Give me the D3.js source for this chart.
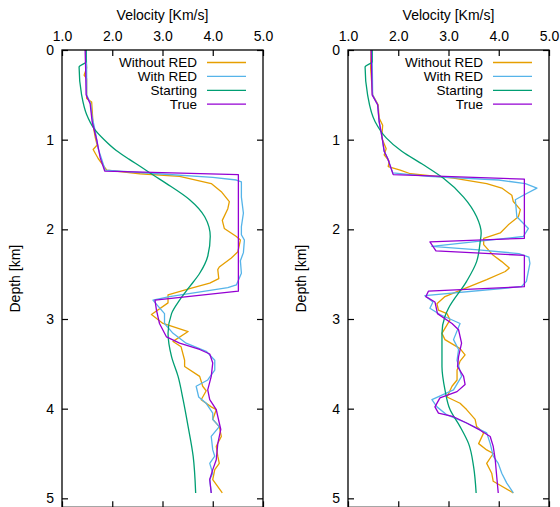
<!DOCTYPE html>
<html>
<head>
<meta charset="utf-8">
<script src="https://cdn.jsdelivr.net/npm/d3@7/dist/d3.min.js"></script>
<style>
  body { margin: 0; background: #fff; }
  svg { display: block; }
  text { font-family: "Liberation Sans", Arial, sans-serif; }
</style>
</head>
<body>
<svg id="chart" width="560" height="507"></svg>
<script>
'use strict';

// tick labels
var velocityTicks = [1, 2, 3, 4, 5];
var depthTicks = [0, 1, 2, 3, 4, 5];
var seriesNames = ['Without RED', 'With RED', 'Starting', 'True'];
var seriesColors = ['#e69f00', '#56b4e9', '#009e73', '#9400d3'];

// left panel, [depth km, velocity km/s]
var leftWithout = [[0,1.47],[0.2,1.49],[0.28,1.44],[0.32,1.49],[0.54,1.49],[0.58,1.59],[0.84,1.62],[0.97,1.66],
  [1.06,1.70],[1.11,1.62],[1.21,1.72],[1.34,1.89],[1.38,2.55],[1.41,3.34],[1.49,3.97],[1.58,4.17],[1.69,4.33],
  [1.77,4.30],[1.90,4.19],[1.99,4.23],[2.08,4.47],[2.12,4.55],[2.25,4.50],[2.32,4.37],[2.42,4.13],[2.45,4.10],
  [2.55,4.12],[2.60,3.94],[2.66,3.54],[2.73,3.11],[2.82,3.11],[2.95,2.78],[3.05,3.01],[3.14,3.51],[3.25,3.21],
  [3.31,3.37],[3.46,3.44],[3.53,3.44],[3.64,3.74],[3.75,3.80],[3.80,3.87],[3.90,3.77],[3.98,3.97],[4.01,4.07],
  [4.12,4.0],[4.2,4.13],[4.31,4.17],[4.42,4.07],[4.53,4.10],[4.61,4.13],[4.68,4.04],[4.79,4.0],[4.94,4.19]];
var leftWith = [[0,1.48],[0.2,1.49],[0.5,1.49],[0.6,1.57],[0.75,1.60],[0.9,1.66],[1.1,1.72],[1.2,1.78],
  [1.34,1.86],[1.38,2.9],[1.42,4.0],[1.45,4.47],[1.47,4.57],[1.64,4.57],[1.82,4.61],[1.97,4.57],[2.06,4.57],
  [2.12,4.63],[2.26,4.61],[2.35,4.55],[2.49,4.57],[2.62,4.47],[2.65,4.30],[2.75,3.14],[2.79,2.81],[2.94,3.04],
  [3.05,3.04],[3.16,3.21],[3.27,3.47],[3.36,3.87],[3.46,4.04],[3.57,4.04],[3.68,3.90],[3.75,3.67],[3.87,3.72],
  [3.94,3.87],[4.05,4.0],[4.12,4.0],[4.2,4.13],[4.31,3.97],[4.46,4.0],[4.53,4.04],[4.61,3.94],[4.72,4.0],
  [4.79,3.94],[4.94,3.97]];
var leftStarting = [[0,1.48],[0.13,1.48],[0.19,1.34],[0.5,1.39],[0.72,1.49],[0.87,1.63],[1.0,1.84],[1.12,2.08],
  [1.22,2.34],[1.30,2.56],[1.40,2.83],[1.49,3.08],[1.67,3.54],[1.86,3.84],[2.08,3.95],[2.30,3.90],[2.49,3.74],
  [2.64,3.54],[2.79,3.34],[2.94,3.18],[3.16,3.11],[3.42,3.18],[3.64,3.31],[3.90,3.41],[4.2,3.51],[4.53,3.61],
  [4.94,3.66]];
var leftTrue = [[0,1.46],[0.2,1.47],[0.5,1.48],[0.6,1.56],[0.8,1.60],[1.0,1.69],[1.2,1.76],[1.35,1.85],
  [1.39,4.51],[2.69,4.51],[2.79,2.85],[2.90,2.88],[3.05,2.94],[3.2,3.08],[3.27,3.34],[3.34,3.74],[3.39,3.94],
  [3.49,4.0],[3.64,3.97],[3.79,3.90],[3.90,3.94],[4.01,4.07],[4.16,4.13],[4.23,4.16],[4.39,4.10],[4.57,4.07],
  [4.68,4.0],[4.79,3.94],[4.94,3.97]];

// right panel, [depth km, velocity km/s]
var rightWithout = [[0,1.46],[0.2,1.45],[0.5,1.49],[0.61,1.60],[0.76,1.62],[0.84,1.69],[0.98,1.67],[1.10,1.76],
  [1.17,1.72],[1.24,1.82],[1.30,1.80],[1.34,2.04],[1.38,2.24],[1.43,3.10],[1.49,3.76],[1.54,4.06],[1.62,4.26],
  [1.69,4.29],[1.78,4.43],[1.86,4.39],[1.95,4.19],[2.04,4.03],[2.10,3.70],[2.17,3.70],[2.29,3.89],[2.36,4.06],
  [2.43,4.21],[2.47,4.13],[2.56,3.76],[2.68,3.23],[2.75,2.93],[2.83,2.77],[2.90,2.80],[2.94,2.97],[3.01,3.03],
  [3.16,2.87],[3.23,2.93],[3.33,3.23],[3.40,3.33],[3.47,3.23],[3.57,3.17],[3.68,3.17],[3.75,3.07],[3.87,2.97],
  [3.94,3.23],[4.01,3.36],[4.12,3.53],[4.20,3.56],[4.27,3.70],[4.39,3.60],[4.46,3.76],[4.50,3.89],[4.61,3.76],
  [4.72,3.86],[4.81,3.89],[4.94,4.29]];
var rightWith = [[0,1.48],[0.5,1.49],[0.61,1.59],[0.80,1.62],[0.98,1.68],[1.13,1.72],[1.21,1.79],[1.37,1.89],
  [1.41,2.6],[1.45,4.0],[1.49,4.53],[1.54,4.76],[1.62,4.49],[1.67,4.33],[1.86,4.36],[1.99,4.59],[2.08,4.49],
  [2.19,2.67],[2.23,3.6],[2.27,4.4],[2.31,4.6],[2.38,4.62],[2.58,4.55],[2.64,4.45],[2.74,2.53],[2.81,2.69],
  [2.88,2.63],[2.95,2.83],[3.05,3.23],[3.23,3.10],[3.34,3.20],[3.46,3.17],[3.64,3.26],[3.79,3.10],[3.90,2.67],
  [3.98,2.77],[4.07,2.97],[4.16,3.36],[4.27,3.76],[4.39,3.83],[4.53,3.89],[4.61,3.99],[4.72,4.06],[4.83,4.16],
  [4.94,4.29]];
var rightStarting = [[0,1.48],[0.13,1.48],[0.19,1.34],[0.50,1.39],[0.80,1.54],[0.98,1.76],[1.13,2.07],[1.28,2.5],
  [1.43,2.90],[1.64,3.30],[1.86,3.56],[2.04,3.65],[2.14,3.63],[2.36,3.56],[2.58,3.36],[2.88,3.0],[2.97,2.93],
  [3.16,2.87],[3.53,2.87],[3.79,2.93],[4.01,3.03],[4.2,3.23],[4.39,3.40],[4.65,3.50],[4.94,3.55]];
var rightTrue = [[0,1.46],[0.5,1.48],[0.61,1.59],[0.80,1.62],[0.98,1.68],[1.13,1.72],[1.21,1.79],[1.39,1.90],
  [1.44,4.51],[2.10,4.51],[2.14,2.63],[2.24,2.75],[2.29,4.51],[2.64,4.51],[2.69,2.60],[2.75,2.55],[2.81,2.73],
  [2.86,2.75],[2.94,2.78],[3.05,3.07],[3.12,3.20],[3.27,3.26],[3.42,3.20],[3.53,3.18],[3.64,3.30],[3.73,3.33],
  [3.81,3.17],[3.88,2.83],[3.98,2.73],[4.05,2.80],[4.09,3.10],[4.16,3.36],[4.24,3.63],[4.31,3.83],[4.42,3.89],
  [4.57,3.93],[4.76,3.96],[4.94,3.99]];

var svg = d3.select('#chart');
var TOP = 50, BOTTOM = 507.3;
var FONT = '14px';

function drawPanel(left, right, labelX, series)
{
    var x = d3.scaleLinear().domain([1, 5]).range([left, right]);
    var y = d3.scaleLinear().domain([0, 5.1]).range([TOP, BOTTOM]);
    var g = svg.append('g');

    // curves (starting model is smooth, the rest are sampled polylines)
    var line = d3.line()
        .x(function(d) { return x(d[1]); })
        .y(function(d) { return y(d[0]); });
    series.forEach(function(s, i) {
        g.append('path')
            .datum(s)
            .attr('fill', 'none')
            .attr('stroke', seriesColors[i])
            .attr('stroke-width', 1.3)
            .attr('stroke-linejoin', 'round')
            .attr('d', i === 2 ? line.curve(d3.curveMonotoneY)(s) : line.curve(d3.curveLinear)(s));
    });

    // axes with inward ticks
    var top = g.append('g').attr('transform', 'translate(0,' + TOP + ')')
        .call(d3.axisTop(x).tickValues(velocityTicks).tickFormat(d3.format('.1f'))
            .tickSizeInner(-6).tickSizeOuter(0).tickPadding(9));
    var bottom = g.append('g').attr('transform', 'translate(0,' + BOTTOM + ')')
        .call(d3.axisBottom(x).tickValues(velocityTicks).tickFormat('')
            .tickSizeInner(-6).tickSizeOuter(0));
    var lft = g.append('g').attr('transform', 'translate(' + left + ',0)')
        .call(d3.axisLeft(y).tickValues(depthTicks).tickFormat(d3.format('d'))
            .tickSizeInner(-6).tickSizeOuter(0).tickPadding(8));
    var rgt = g.append('g').attr('transform', 'translate(' + right + ',0)')
        .call(d3.axisRight(y).tickValues(depthTicks).tickFormat('')
            .tickSizeInner(-6).tickSizeOuter(0));
    [top, bottom, lft, rgt].forEach(function(a) {
        a.select('.domain').remove();
        a.selectAll('line').attr('stroke', '#000').attr('stroke-width', 1.2);
        a.selectAll('text').attr('font-family', null).style('font-size', FONT).attr('fill', '#000');
    });

    // frame
    g.append('rect')
        .attr('x', left).attr('y', TOP)
        .attr('width', right - left).attr('height', BOTTOM - TOP)
        .attr('fill', 'none').attr('stroke', '#000').attr('stroke-width', 1.3);

    // titles
    g.append('text')
        .attr('x', (left + right) / 2).attr('y', 19.5)
        .attr('text-anchor', 'middle').style('font-size', FONT)
        .text('Velocity [Km/s]');
    g.append('text')
        .attr('transform', 'translate(' + labelX + ',' + ((TOP + BOTTOM) / 2) + ') rotate(-90)')
        .attr('text-anchor', 'middle').attr('dy', '0.35em').style('font-size', FONT)
        .text('Depth [km]');

    // legend
    seriesNames.forEach(function(name, i) {
        var ly = 62.5 + i * 13.9;
        g.append('text')
            .attr('x', right - 66).attr('y', ly).attr('dy', '0.35em')
            .attr('text-anchor', 'end').style('font-size', '13.5px')
            .text(name);
        g.append('line')
            .attr('x1', right - 56).attr('x2', right - 17)
            .attr('y1', ly).attr('y2', ly)
            .attr('stroke', seriesColors[i]).attr('stroke-width', 1.3);
    });
}

drawPanel(62, 263, 15, [leftWithout, leftWith, leftStarting, leftTrue]);
drawPanel(348, 549, 301, [rightWithout, rightWith, rightStarting, rightTrue]);
</script>
</body>
</html>
